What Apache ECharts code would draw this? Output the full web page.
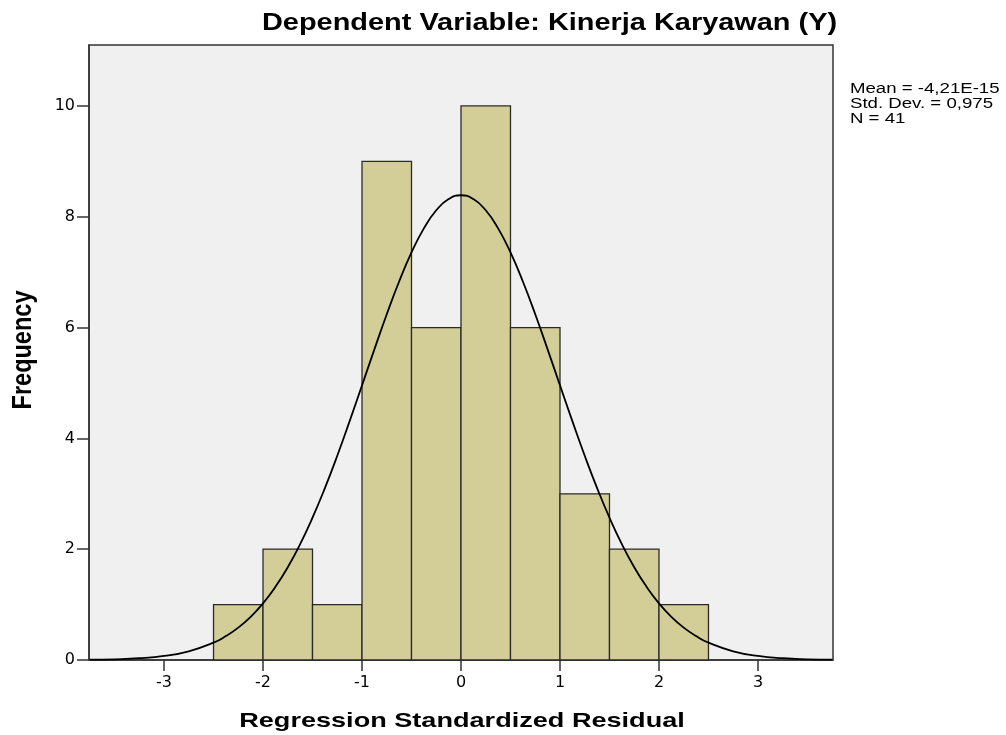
<!DOCTYPE html>
<html><head><meta charset="utf-8">
<script src="https://cdn.jsdelivr.net/npm/echarts@6/dist/echarts.min.js"></script>
<style>html,body{margin:0;padding:0;background:#fff}#c{width:1006px;height:735px}</style>
</head><body><div id="c"></div>
<script>
const titleText = 'Dependent Variable: Kinerja Karyawan (Y)';
const xAxisName = 'Regression Standardized Residual';
const yAxisName = 'Frequency';
const statsLines = ['Mean = -4,21E-15', 'Std. Dev. = 0,975', 'N = 41'];
const binStart = [-2.5, -2.0, -1.5, -1.0, -0.5, 0.0, 0.5, 1.0, 1.5, 2.0];
const binEnd   = [-2.0, -1.5, -1.0, -0.5, 0.0, 0.5, 1.0, 1.5, 2.0, 2.5];
const frequency = [1, 2, 1, 9, 6, 10, 6, 3, 2, 1];
const curveX = [-3.75,-3.5,-3.25,-3,-2.75,-2.5,-2.375,-2.25,-2.125,-2,-1.875,-1.75,-1.625,-1.5,-1.375,-1.25,-1.125,-1,-0.875,-0.75,-0.625,-0.5,-0.375,-0.25,-0.125,0,0.125,0.25,0.375,0.5,0.625,0.75,0.875,1,1.125,1.25,1.375,1.5,1.625,1.75,1.875,2,2.125,2.25,2.375,2.5,2.75,3,3.25,3.5,3.75];
const curveY = [0.005,0.013,0.032,0.074,0.157,0.313,0.432,0.585,0.780,1.023,1.320,1.675,2.092,2.569,3.103,3.687,4.311,4.957,5.607,6.240,6.831,7.355,7.790,8.117,8.319,8.388,8.319,8.117,7.790,7.355,6.831,6.240,5.607,4.957,4.311,3.687,3.103,2.569,2.092,1.675,1.320,1.023,0.780,0.585,0.432,0.313,0.157,0.074,0.032,0.013,0.005];
const xTicks = [-3, -2, -1, 0, 1, 2, 3];
const yTicks = [0, 2, 4, 6, 8, 10];

const chart = echarts.init(document.getElementById('c'), null, {renderer: 'canvas'});
const font = 'Liberation Sans, Arial, sans-serif';
const tickFont = 'DejaVu Sans, sans-serif';
chart.setOption({
  animation: false,
  backgroundColor: '#ffffff',
  graphic: [
    {type: 'text', x: 262, y: 24, scaleX: 1.23, silent: true,
     style: {text: titleText, font: 'bold 23.5px ' + font, fill: '#000', textAlign: 'left', textVerticalAlign: 'middle'}},
    {type: 'text', x: 462, y: 721, scaleX: 1.29, silent: true,
     style: {text: xAxisName, font: 'bold 21px ' + font, fill: '#000', textAlign: 'center', textVerticalAlign: 'middle'}},
    {type: 'text', x: 23, y: 350, rotation: Math.PI / 2, scaleX: 1.12, scaleY: 1.3, silent: true,
     style: {text: yAxisName, font: 'bold 21px ' + font, fill: '#000', textAlign: 'center', textVerticalAlign: 'middle'}},
    {type: 'text', x: 850, y: 89, scaleX: 1.33, silent: true,
     style: {text: statsLines[0], font: '14px ' + font, fill: '#000', textAlign: 'left', textVerticalAlign: 'middle'}},
    {type: 'text', x: 850, y: 104, scaleX: 1.33, silent: true,
     style: {text: statsLines[1], font: '14px ' + font, fill: '#000', textAlign: 'left', textVerticalAlign: 'middle'}},
    {type: 'text', x: 850, y: 119, scaleX: 1.33, silent: true,
     style: {text: statsLines[2], font: '14px ' + font, fill: '#000', textAlign: 'left', textVerticalAlign: 'middle'}}
  ],
  grid: {left: 89, right: 173, top: 45, bottom: 75, show: true,
         backgroundColor: '#f0f0f0', borderColor: '#333', borderWidth: 1.5},
  xAxis: {
    type: 'value', min: -3.758, max: 3.758,
    axisLine: {show: true, onZero: false, lineStyle: {color: '#333', width: 1.5}},
    axisTick: {show: true, customValues: xTicks, length: 11, lineStyle: {color: '#333', width: 1.5}},
    axisLabel: {customValues: xTicks, fontFamily: tickFont, fontSize: 16, color: '#000', margin: 15},
    splitLine: {show: false}
  },
  yAxis: {
    type: 'value', min: 0, max: 11.1,
    axisLine: {show: true, onZero: false, lineStyle: {color: '#333', width: 1.5}},
    axisTick: {show: true, customValues: yTicks, length: 12, lineStyle: {color: '#333', width: 1.5}},
    axisLabel: {customValues: yTicks, fontFamily: tickFont, fontSize: 16, color: '#000', margin: 14},
    splitLine: {show: false}
  },
  series: [{
    type: 'custom',
    data: frequency.map((f, i) => [binStart[i], binEnd[i], f]),
    encode: {x: [0, 1], y: 2},
    renderItem: function (params, api) {
      const p0 = api.coord([api.value(0), 0]);
      const p1 = api.coord([api.value(1), api.value(2)]);
      return {
        type: 'rect',
        shape: {x: p0[0], y: p1[1], width: p1[0] - p0[0], height: p0[1] - p1[1]},
        style: {fill: '#d3ce98', stroke: '#2a2a2a', lineWidth: 1.3}
      };
    },
    z: 2
  }, {
    type: 'line', smooth: true, symbol: 'none',
    data: curveX.map((x, i) => [x, curveY[i]]),
    lineStyle: {color: '#000', width: 1.8},
    z: 3
  }]
});
</script></body></html>
